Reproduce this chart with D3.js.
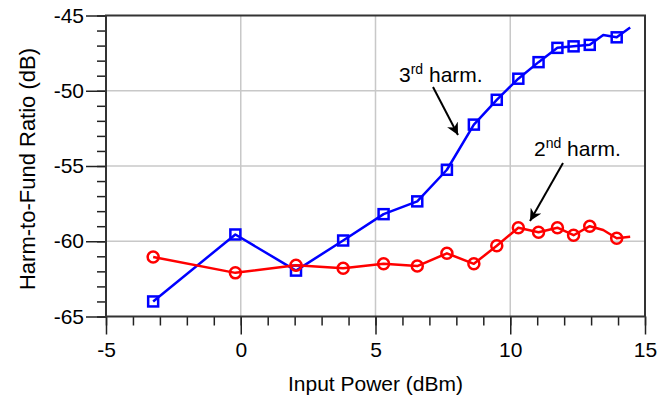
<!DOCTYPE html>
<html>
<head>
<meta charset="utf-8">
<script src="https://cdn.jsdelivr.net/npm/d3@7"></script>
<style>
  body { margin: 0; background: #fff; }
  text { font-family: "Liberation Sans", Arial, sans-serif; fill: #000; }
</style>
</head>
<body>
<div id="chart"></div>
<script>
// input power sweep (dBm)
const inputPower = [-3.25, -0.2, 2.05, 3.8, 5.3, 6.55, 7.65, 8.65, 9.5, 10.3, 11.05, 11.75, 12.35, 12.95, 13.45, 13.95, 14.45];
// harmonic-to-fundamental ratio (dB)
const harm3 = [-64.0, -59.55, -61.95, -59.95, -58.2, -57.35, -55.25, -52.25, -50.6, -49.2, -48.1, -47.15, -47.05, -46.95, -46.3, -46.45, -45.8];
const harm2 = [-61.05, -62.1, -61.6, -61.8, -61.5, -61.65, -60.8, -61.5, -60.3, -59.1, -59.4, -59.1, -59.6, -59.0, -59.25, -59.8, -59.7];
// points that carry a marker
const markedIdx = [0, 1, 2, 3, 4, 5, 6, 7, 8, 9, 10, 11, 12, 13, 15];

const xTicks = [-5, 0, 5, 10, 15];
const yTicks = [-65, -60, -55, -50, -45];

const width = 669, height = 403;
const margin = { top: 15.5, right: 24, bottom: 86.5, left: 106 };
const iw = width - margin.left - margin.right;
const ih = height - margin.top - margin.bottom;

const svg = d3.select('#chart').append('svg')
  .attr('width', width)
  .attr('height', height);

const g = svg.append('g').attr('transform', `translate(${margin.left},${margin.top})`);

const x = d3.scaleLinear().domain([-5, 15]).range([0, iw]);
const y = d3.scaleLinear().domain([-65, -45]).range([ih, 0]);

// grid
g.append('g').selectAll('line.vg').data(xTicks.slice(1, -1)).join('line')
  .attr('x1', d => x(d)).attr('x2', d => x(d))
  .attr('y1', 0).attr('y2', ih)
  .attr('stroke', '#c8c8c8').attr('stroke-width', 1.5);
g.append('g').selectAll('line.hg').data(yTicks.slice(1, -1)).join('line')
  .attr('x1', 0).attr('x2', iw)
  .attr('y1', d => y(d)).attr('y2', d => y(d))
  .attr('stroke', '#c8c8c8').attr('stroke-width', 1.5);

// minor ticks
const xMinor = d3.range(-5, 15.01, 1);
const yMinor = d3.range(-65, -44.99, 1);
g.append('g').attr('transform', `translate(0,${ih})`)
  .call(d3.axisBottom(x).tickValues(xMinor).tickSize(9).tickFormat(''))
  .call(a => a.select('.domain').remove())
  .selectAll('line').attr('stroke', '#222').attr('stroke-width', 1.5);
g.append('g')
  .call(d3.axisLeft(y).tickValues(yMinor).tickSize(9).tickFormat(''))
  .call(a => a.select('.domain').remove())
  .selectAll('line').attr('stroke', '#222').attr('stroke-width', 1.5);

// major ticks with labels
const fontFam = '"Liberation Sans", Arial, sans-serif';
const xAxis = g.append('g').attr('transform', `translate(0,${ih})`)
  .call(d3.axisBottom(x).tickValues(xTicks).tickSize(18).tickPadding(8).tickFormat(d => String(d)));
xAxis.select('.domain').remove();
xAxis.selectAll('line').attr('stroke', '#222').attr('stroke-width', 1.5);
xAxis.selectAll('text').attr('font-size', 21).attr('font-family', fontFam).attr('fill', '#000');

const yAxis = g.append('g')
  .call(d3.axisLeft(y).tickValues(yTicks).tickSize(20).tickPadding(2).tickFormat(d => String(d)));
yAxis.select('.domain').remove();
yAxis.selectAll('line').attr('stroke', '#222').attr('stroke-width', 1.5);
yAxis.selectAll('text').attr('font-size', 21).attr('font-family', fontFam).attr('fill', '#000');

// frame
g.append('rect').attr('x', 0).attr('y', 0).attr('width', iw).attr('height', ih)
  .attr('fill', 'none').attr('stroke', '#333').attr('stroke-width', 2);

// series
const series = [
  { values: harm3, color: '#0000ff', shape: 'square' },
  { values: harm2, color: '#ff0000', shape: 'circle' }
];

const line = d3.line().x(d => x(d[0])).y(d => y(d[1]));

series.forEach(s => {
  const pts = inputPower.map((p, i) => [p, s.values[i]]);
  g.append('path').datum(pts)
    .attr('d', line)
    .attr('fill', 'none')
    .attr('stroke', s.color)
    .attr('stroke-width', 2.5)
    .attr('stroke-linejoin', 'round');
  const marks = markedIdx.map(i => pts[i]);
  if (s.shape === 'square') {
    g.append('g').selectAll('rect').data(marks).join('rect')
      .attr('x', d => x(d[0]) - 5).attr('y', d => y(d[1]) - 5)
      .attr('width', 10).attr('height', 10)
      .attr('fill', 'none').attr('stroke', s.color).attr('stroke-width', 2.5);
  } else {
    g.append('g').selectAll('circle').data(marks).join('circle')
      .attr('cx', d => x(d[0])).attr('cy', d => y(d[1])).attr('r', 5.5)
      .attr('fill', 'none').attr('stroke', s.color).attr('stroke-width', 2.5);
  }
});

// axis titles
svg.append('text')
  .attr('x', margin.left + iw / 2).attr('y', 391)
  .attr('text-anchor', 'middle').attr('font-size', 21)
  .text('Input Power (dBm)');
svg.append('text')
  .attr('transform', `translate(35,${margin.top + ih / 2 + 3}) rotate(-90)`)
  .attr('text-anchor', 'middle').attr('font-size', 22)
  .text('Harm-to-Fund Ratio (dB)');

// annotations
svg.append('defs').append('marker')
  .attr('id', 'arrow').attr('viewBox', '0 0 10 10')
  .attr('refX', 10).attr('refY', 5)
  .attr('markerWidth', 6).attr('markerHeight', 6)
  .attr('markerUnits', 'strokeWidth')
  .attr('orient', 'auto')
  .append('path').attr('d', 'M0,0 L10,5 L0,10 L3,5 Z').attr('fill', '#000');

function label(px, py, base, sup, rest) {
  const t = svg.append('text').attr('x', px).attr('y', py).attr('font-size', 21);
  t.append('tspan').text(base);
  t.append('tspan').attr('font-size', 14).attr('dy', -8).text(sup);
  t.append('tspan').attr('dy', 8).text(' ' + rest);
}
label(399, 82, '3', 'rd', 'harm.');
label(534, 156, '2', 'nd', 'harm.');

svg.append('line')
  .attr('x1', 433).attr('y1', 87).attr('x2', 458).attr('y2', 135)
  .attr('stroke', '#000').attr('stroke-width', 2).attr('marker-end', 'url(#arrow)');
svg.append('line')
  .attr('x1', 563).attr('y1', 163).attr('x2', 530).attr('y2', 221)
  .attr('stroke', '#000').attr('stroke-width', 2).attr('marker-end', 'url(#arrow)');
</script>
</body>
</html>
